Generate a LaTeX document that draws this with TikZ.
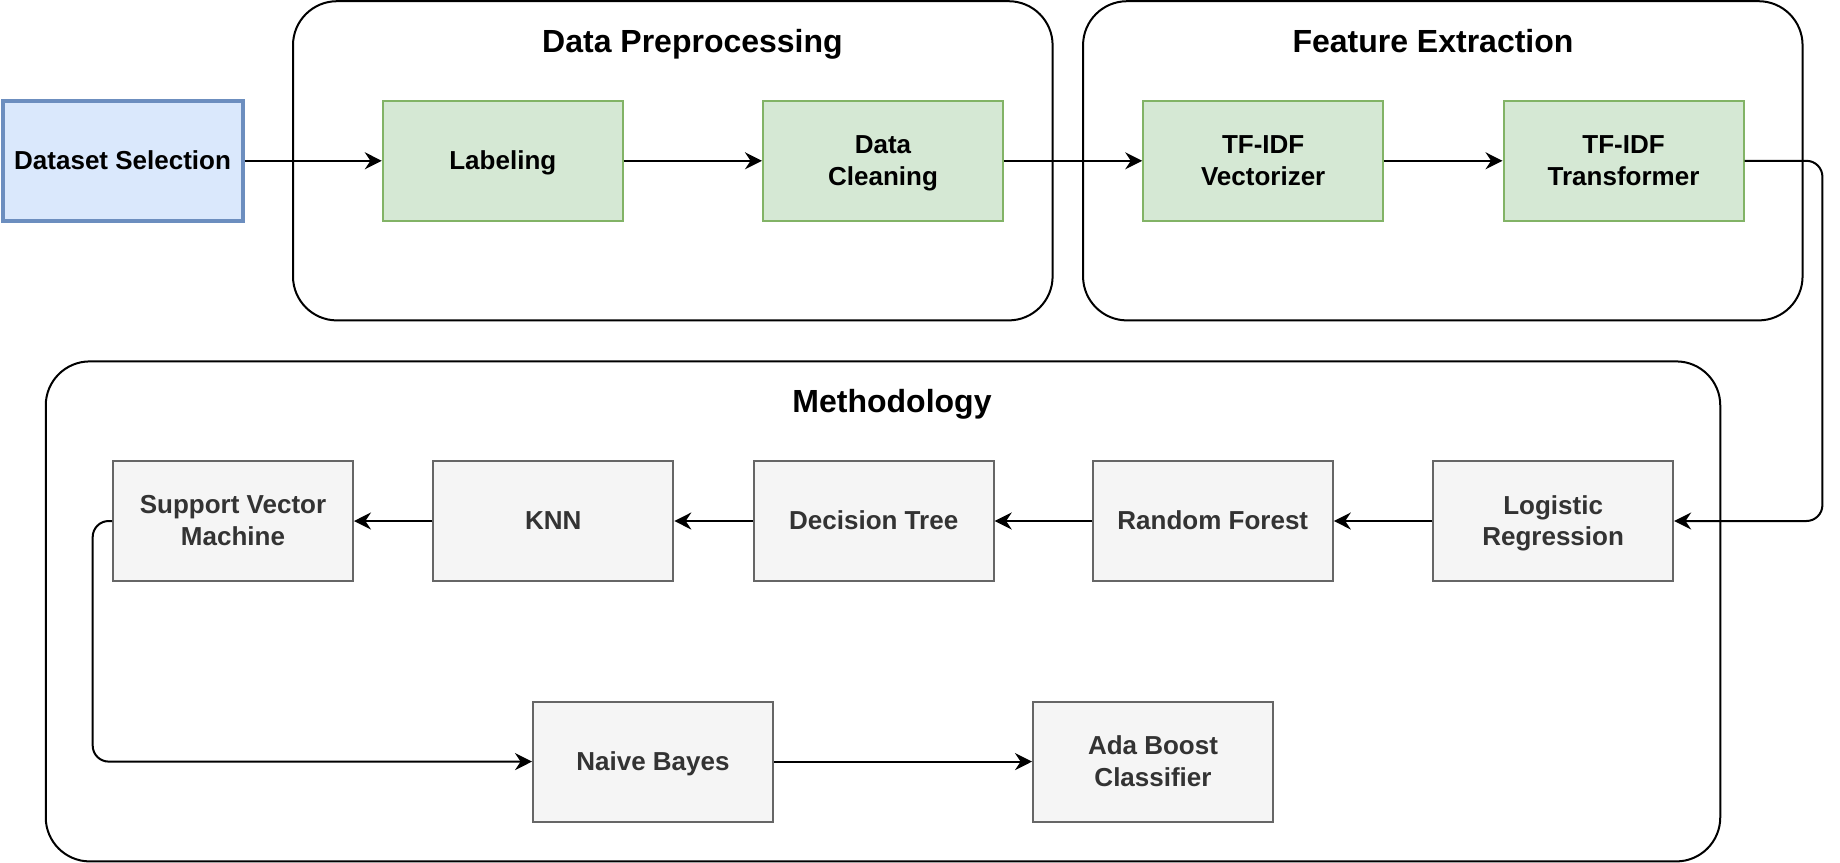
\documentclass[tikz,border=0pt]{standalone}
\usepackage{fontspec}
\setmainfont{Liberation Sans}
\usetikzlibrary{arrows.meta,positioning}
\definecolor{bluefill}{HTML}{DAE8FC}
\definecolor{bluedraw}{HTML}{6C8EBF}
\definecolor{greenfill}{HTML}{D5E8D4}
\definecolor{greendraw}{HTML}{82B366}
\definecolor{grayfill}{HTML}{F5F5F5}
\definecolor{graydraw}{HTML}{666666}
\definecolor{graytext}{HTML}{333333}

\tikzset{
	box/.style={rectangle, minimum width=120pt, minimum height=60pt, align=center, inner sep=2pt,
		text depth=0.5pt, font=\fontsize{13}{15.8}\selectfont\bfseries},
	startbox/.style={box, fill=bluefill, draw=bluedraw, line width=2pt},
	prepbox/.style={box, fill=greenfill, draw=greendraw, line width=1pt},
	methbox/.style={box, fill=grayfill, draw=graydraw, line width=1pt, text=graytext},
	group/.style={rectangle, draw=black, line width=1pt, rounded corners=22pt, inner sep=0pt},
	grouptitle/.style={text depth=0.5pt, font=\fontsize{16}{19}\selectfont\bfseries},
	link/.style={line width=1pt, rounded corners=8pt, -{Stealth[length=8.5pt, width=8.5pt, inset=2.8pt]}}
}

\begin{document}
\begin{tikzpicture}[x=0.5pt,y=0.5pt,yscale=-1,xscale=1]
	\useasboundingbox (0,0) rectangle (1840,862);

	%Shape: Groups
	\node [group, minimum width=379.8pt, minimum height=159.6pt] (prep) at (672.8,160.8) {};
	\node [group, minimum width=359.75pt, minimum height=159.6pt] (feat) at (1442.8,160.8) {};
	\node [group, minimum width=837.25pt, minimum height=250pt] (meth) at (883,611.4) {};

	% Text Node
	\node [grouptitle] (preptitle) at (692.5,41) {Data Preprocessing};
	% Text Node
	\node [grouptitle] (feattitle) at (1433,41) {Feature Extraction};
	% Text Node
	\node [grouptitle] (methtitle) at (892,401.3) {Methodology};

	%Shape: Top row
	\node [startbox] (dataset) at (122.6,160.8) {Dataset Selection};
	\node [prepbox] (labeling) at (502.8,160.8) {Labeling};
	\node [prepbox] (cleaning) at (883,160.8) {Data\\Cleaning};
	\node [prepbox] (tfidfvec) at (1263.2,160.8) {TF-IDF\\Vectorizer};
	\node [prepbox] (tfidftr) at (1623.5,160.8) {TF-IDF\\Transformer};

	%Shape: Classifiers
	\node [methbox] (logreg) at (1553.1,521) {Logistic\\Regression};
	\node [methbox] (forest) at (1212.8,521) {Random Forest};
	\node [methbox] (dtree) at (873.7,521) {Decision Tree};
	\node [methbox] (knn) at (553.3,521) {KNN};
	\node [methbox] (svm) at (233,521) {Support Vector\\Machine};
	\node [methbox] (bayes) at (653,761.6) {Naive Bayes};
	\node [methbox] (ada) at (1153,761.6) {Ada Boost\\Classifier};

	\coordinate (bendright) at (1822.4,160.8);
	\coordinate (bendleft) at (92.7,521);

	%Straight Lines
	\draw [link] (dataset) -- (labeling);
	\draw [link] (labeling) -- (cleaning);
	\draw [link] (cleaning) -- (tfidfvec);
	\draw [link] (tfidfvec) -- (tfidftr);
	\draw [link] (tfidftr.east) -- (bendright) |- (logreg.east);
	\draw [link] (logreg) -- (forest);
	\draw [link] (forest) -- (dtree);
	\draw [link] (dtree) -- (knn);
	\draw [link] (knn) -- (svm);
	\draw [link] (svm.west) -- (bendleft) |- (bayes.west);
	\draw [link] (bayes) -- (ada);

\end{tikzpicture}
\end{document}
